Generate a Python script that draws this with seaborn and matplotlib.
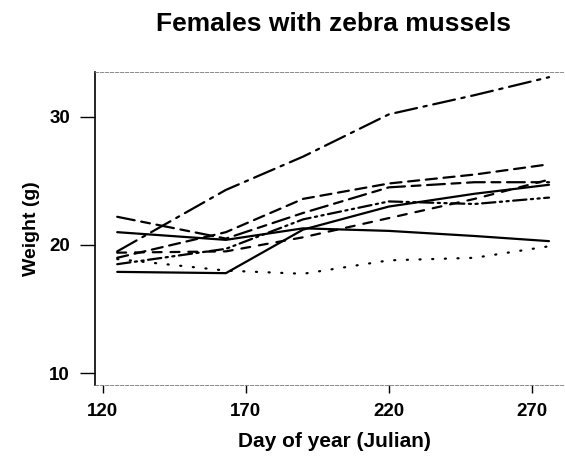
import pandas as pd
import matplotlib
matplotlib.use("Agg")
import matplotlib.pyplot as plt
import seaborn as sns

# days de amostragem (julian)
days = [125, 163, 190, 220, 250, 276]

# peso de cada femea (g)
fish_a = [19.5, 24.3, 26.9, 30.2, 31.7, 33.1]
fish_b = [21.0, 20.4, 21.3, 21.1, 20.7, 20.3]
fish_c = [17.9, 17.8, 21.2, 23.0, 24.0, 24.7]
fish_d = [18.9, 18.0, 17.75, 18.8, 19.0, 19.9]
fish_e = [19.0, 21.0, 23.6, 24.8, 25.5, 26.3]
fish_f = [22.2, 20.5, 22.5, 24.5, 24.9, 24.9]
fish_g = [18.5, 19.7, 22.0, 23.4, 23.2, 23.7]
fish_h = [19.4, 19.5, 20.6, 22.1, 23.6, 25.1]

series = {"A": fish_a, "B": fish_b, "C": fish_c, "D": fish_d,
          "E": fish_e, "F": fish_f, "G": fish_g, "H": fish_h}

rows = []
for name, vals in series.items():
    for d, w in zip(days, vals):
        rows.append({"fish": name, "day": d, "weight": w})
df = pd.DataFrame(rows)

estilos = {"A": (10, 3, 1.5, 3), "B": "", "C": "", "D": (0.5, 5.2),
           "E": (5, 3), "F": (8, 3, 4, 3), "G": (6, 2, 1, 2, 1, 2), "H": (4, 4)}

sns.set_style("ticks")
plt.rcParams['font.family'] = ['Liberation Sans', 'DejaVu Sans']
plt.rcParams['lines.dash_capstyle'] = 'round'
plt.rcParams['text.color'] = 'black'

fig = plt.figure(figsize=(5.65, 4.59), dpi=100)
ax = fig.add_axes([0.168, 0.161, 0.828, 0.682])

sns.lineplot(data=df, x="day", y="weight", units="fish", style="fish",
             dashes=estilos, color="black", linewidth=1.6,
             estimator=None, legend=False, ax=ax)

ax.set_xlim(117.2, 280.8)
ax.set_ylim(9.06, 33.5)
ax.set_xticks([120, 170, 220, 270])
ax.set_yticks([10, 20, 30])
for lab in ax.get_xticklabels() + ax.get_yticklabels():
    lab.set_fontweight("bold")
    lab.set_fontsize(13.5)
    lab.set_color("black")

ax.spines["right"].set_visible(False)
ax.spines["left"].set_linewidth(1.2)
ax.spines["left"].set_color("black")
for s in ["top", "bottom"]:
    ax.spines[s].set_linestyle((0, (4, 2)))
    ax.spines[s].set_linewidth(0.6)
    ax.spines[s].set_color("#777777")
ax.tick_params(axis="x", length=6, width=1, color="black", pad=7)
ax.tick_params(axis="y", length=11, width=1, color="black", pad=7)

ax.set_xlabel("Day of year (Julian)", fontsize=15, fontweight="bold", color="black")
ax.set_ylabel("Weight (g)", fontsize=14, fontweight="bold", color="black")
ax.xaxis.set_label_coords(0.511, -0.18)
ax.xaxis.label.set_va("center")
ax.yaxis.set_label_coords(-0.135, 0.5)
ax.yaxis.label.set_va("center")

fig.text(334 / 565, 1 - 24 / 459, "Females with zebra mussels", fontsize=19,
         fontweight="bold", ha="center", va="center", color="black")

fig.savefig("out.png", dpi=100)
